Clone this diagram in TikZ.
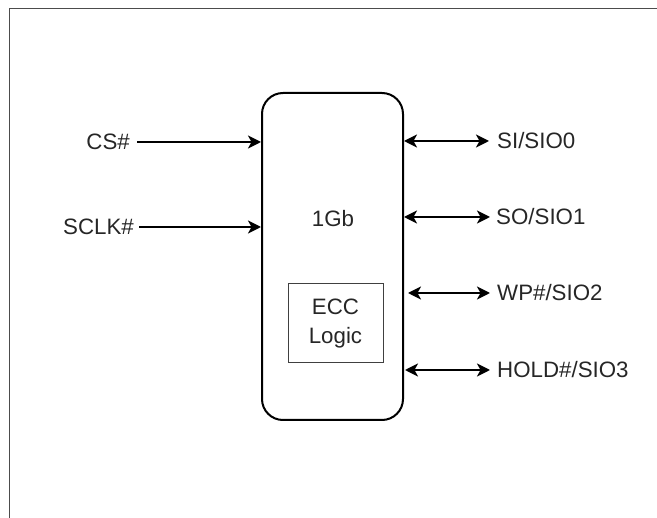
\documentclass[tikz,border=0pt]{standalone}
\usepackage{fontspec}
\setmainfont{Liberation Sans}
\usetikzlibrary{arrows.meta}
\begin{document}
\begin{tikzpicture}[x=1pt,y=-1pt,
  lbl/.style={font=\fontsize{22.3}{29}\selectfont, text=black!85, inner sep=0pt},
  sig/.style={line width=2pt, -{Stealth[length=13pt,width=13pt,inset=3.5pt]}},
  bidir/.style={line width=2pt, {Stealth[length=13pt,width=13pt,inset=3.5pt]}-{Stealth[length=13pt,width=13pt,inset=3.5pt]}},
  chipbox/.style={draw, line width=2pt, rounded corners=21pt, minimum width=141pt, minimum height=327pt, inner sep=0pt},
  eccbox/.style={draw=black!75, line width=1pt, minimum width=95pt, minimum height=79pt, align=center, font=\fontsize{22.3}{29}\selectfont, text=black!85}
]
\useasboundingbox (0,0) rectangle (657,518);
\draw[black!70, line width=1pt] (660,9) -- (9,9) -- (9,521);

\node[chipbox] (chip) at (332.5,256.5) {};
\node[lbl] (gb) at (333,219) {1Gb};
\node[eccbox] (ecc) at (335.5,323.5) {ECC\\Logic};

\node[lbl, anchor=east] (cs) at (130,142) {CS\#};
\node[lbl, anchor=east] (sclk) at (134,227) {SCLK\#};
\coordinate (csA) at (137,142);
\coordinate (sclkA) at (139,227);
\draw[sig] (csA) -- (csA -| chip.west);
\draw[sig] (sclkA) -- (sclkA -| chip.west);

\node[lbl, anchor=west] (si) at (497,141) {SI/SIO0};
\node[lbl, anchor=west] (so) at (496,217) {SO/SIO1};
\node[lbl, anchor=west] (wp) at (497,293) {WP\#/SIO2};
\node[lbl, anchor=west] (hold) at (497,370) {HOLD\#/SIO3};

\coordinate (siA) at (489,141);
\coordinate (soA) at (490,217);
\coordinate (wpA) at (490,293);
\coordinate (holdA) at (490,370);
\coordinate (wpB) at (408,293);
\draw[bidir] (siA -| chip.east) -- (siA);
\draw[bidir] (soA -| chip.east) -- (soA);
\draw[bidir] (wpB) -- (wpA);
\draw[bidir] ([xshift=1pt]holdA -| chip.east) -- (holdA);
\end{tikzpicture}
\end{document}
